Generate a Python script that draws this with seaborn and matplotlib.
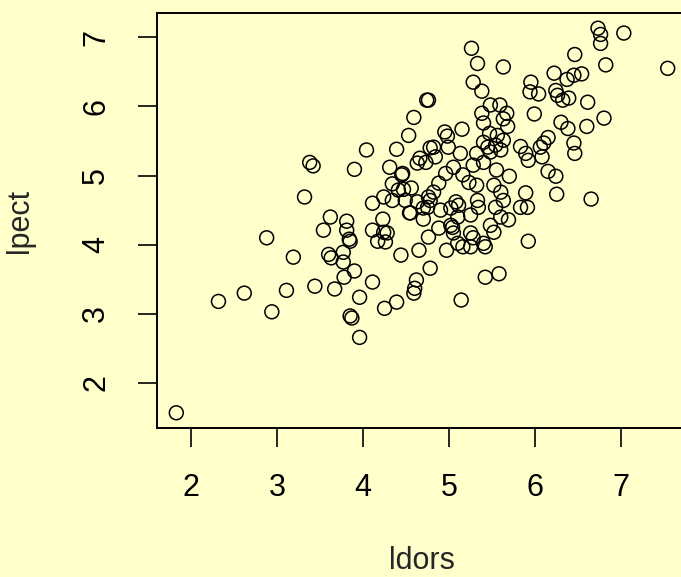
import matplotlib
matplotlib.use("Agg")
import matplotlib.pyplot as plt
import seaborn as sns
import pandas as pd

ldors = [
    1.83, 2.32, 2.62, 2.88, 2.94, 3.11, 3.19, 3.32, 3.38, 3.42, 3.44, 3.54, 3.62, 3.60, 3.63, 3.67,
    3.81, 3.81, 3.84, 3.85, 3.77, 3.77, 3.90, 3.78, 3.96, 3.85, 3.87, 3.96, 4.11, 4.25, 4.39, 4.44,
    4.65, 4.59, 4.60, 4.62, 4.11, 4.23, 4.17, 4.26, 4.28, 4.24, 4.54, 4.70, 4.76, 4.78, 3.90, 4.04,
    4.39, 4.53, 4.59, 4.74, 4.76, 4.31, 4.46, 4.45, 4.34, 4.24, 4.11, 4.34, 4.41, 4.47, 4.56, 4.49,
    4.63, 4.55, 4.63, 4.66, 4.73, 4.78, 4.76, 4.70, 4.97, 4.88, 5.02, 5.10, 5.14,
    5.26, 5.33, 5.63, 5.28, 5.38, 5.48, 5.59, 5.38, 5.67, 5.63, 5.68, 5.40, 5.47, 5.15, 4.95, 4.98,
    4.99, 4.82, 4.84, 5.13, 5.32, 5.40, 5.45, 5.48, 5.54, 5.60, 5.63, 5.56, 5.40, 5.55, 5.70, 5.28,
    5.05, 4.96, 5.16, 5.23, 5.32, 4.88, 4.82, 5.52, 5.60, 5.63, 5.54, 5.33, 5.34, 5.08, 5.02, 4.78,
    4.75, 4.90, 5.83, 5.91, 5.89, 5.83, 5.89, 5.92,
    5.95, 5.94, 6.04, 5.99, 6.22, 6.24, 6.26, 6.32, 6.39, 6.37, 6.46, 6.54, 6.45, 6.30, 6.38, 6.60,
    6.80, 6.61, 6.15, 6.10, 6.06, 6.08, 6.45, 6.46, 6.15, 6.24, 6.25, 6.65, 6.73, 6.76, 6.76, 7.03,
    6.82, 7.54,
    5.11, 5.10, 5.25, 5.48, 5.60, 5.69, 5.04, 5.05, 5.25, 5.28, 5.52, 5.16, 5.25, 5.40, 5.42, 5.92,
    5.42, 5.58,
]
lpect = [
    1.57, 3.18, 3.30, 4.10, 3.03, 3.34, 3.82, 4.69, 5.19, 5.14, 3.40, 4.21, 4.40, 3.86, 3.81, 3.36,
    4.34, 4.21, 4.08, 4.05, 3.89, 3.75, 3.62, 3.53, 3.24, 2.97, 2.94, 2.66, 3.46, 3.08, 3.17, 3.85,
    3.92, 3.30, 3.37, 3.49, 4.21, 4.37, 4.05, 4.04, 4.17, 4.18, 4.46, 4.37, 4.11, 3.66, 5.09, 5.37,
    5.38, 5.58, 5.84, 6.09, 6.09, 5.12, 5.03, 5.01, 4.88, 4.69, 4.60, 4.64, 4.79, 4.80, 4.82, 4.64,
    4.62, 4.46, 5.18, 5.25, 5.19, 5.40, 4.69, 4.53, 3.92, 4.24, 4.28, 4.02, 3.20,
    6.84, 6.62, 6.57, 6.35, 6.22, 6.02, 6.02, 5.90, 5.90, 5.82, 5.71, 5.76, 5.61, 5.67, 5.63, 5.57,
    5.41, 5.41, 5.27, 5.32, 5.32, 5.48, 5.41, 5.34, 5.44, 5.37, 5.51, 5.58, 5.19, 5.08, 4.99, 5.15,
    5.12, 5.03, 5.01, 4.90, 4.86, 4.89, 4.76, 4.86, 4.76, 4.64, 4.54, 4.64, 4.54, 4.62, 4.53, 4.64,
    4.54, 4.50, 4.54, 4.54, 4.75, 5.42, 5.32, 5.22,
    6.35, 6.21, 6.18, 5.89, 6.48, 6.23, 6.16, 6.09, 6.12, 6.39, 6.75, 6.47, 6.45, 5.77, 5.68, 5.71,
    5.83, 6.06, 5.55, 5.47, 5.41, 5.27, 5.47, 5.32, 5.06, 4.99, 4.73, 4.66, 7.13, 7.04, 6.91, 7.06,
    6.60, 6.55,
    4.57, 4.40, 4.43, 4.28, 4.40, 4.36, 4.25, 4.17, 4.17, 4.10, 4.18, 3.97, 3.97, 4.02, 3.97, 4.05,
    3.53, 3.58,
]
x_ticks = [2, 3, 4, 5, 6, 7]
y_ticks = [2, 3, 4, 5, 6, 7]
x_label = "ldors"
y_label = "lpect"

df = pd.DataFrame({"ldors": ldors, "lpect": lpect})

sns.set_style("ticks")
plt.rcParams["font.family"] = ["Liberation Sans", "DejaVu Sans"]

bg = "#FFFFCC"
W, H = 681, 577
fig = plt.figure(figsize=(W / 100, H / 100), dpi=100, facecolor=bg)
ax = fig.add_axes([156.5 / W, (H - 428) / H, 531 / W, 415 / H])
ax.set_facecolor(bg)

sns.scatterplot(data=df, x="ldors", y="lpect", ax=ax, s=100,
                facecolor="none", edgecolor="black", linewidth=1.1, marker="o")

ax.set_xlim(1.60, 7.77)
ax.set_ylim(1.35, 7.35)
ax.set_xticks(x_ticks)
ax.set_yticks(y_ticks)
ax.set_xticklabels([str(t) for t in x_ticks])
ax.set_yticklabels([str(t) for t in y_ticks], rotation=90, va="center")

for sp in ax.spines.values():
    sp.set_visible(True)
    sp.set_linewidth(1.4)
    sp.set_color("black")

ax.tick_params(axis="both", direction="out", length=13.7, width=1.2,
               colors="black", labelsize=22, pad=19)
ax.set_xlabel(x_label, fontsize=22, labelpad=31)
ax.set_ylabel(y_label, fontsize=22, labelpad=33)

fig.savefig("out.png", dpi=100, facecolor=bg)
